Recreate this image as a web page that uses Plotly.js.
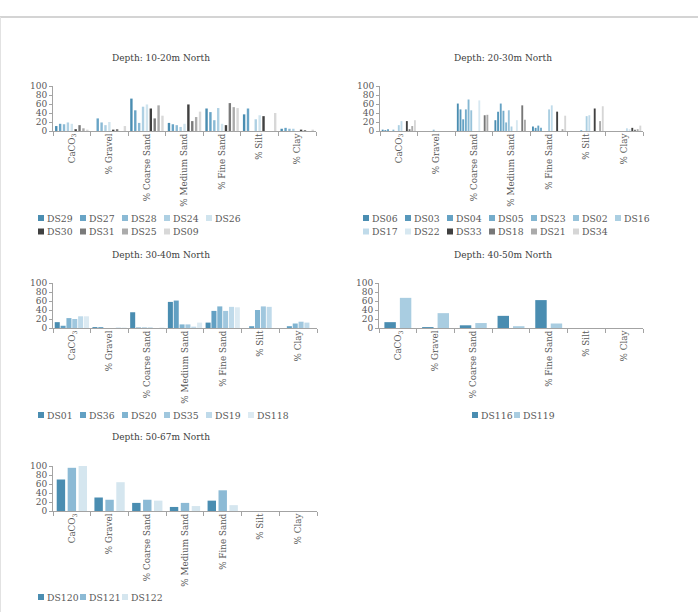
<!DOCTYPE html>
<html>
<head>
<meta charset="utf-8">
<script src="https://cdn.plot.ly/plotly-3.0.1.min.js"></script>
<style>
  html, body { margin: 0; padding: 0; background: #ffffff; }
  #chart { width: 698px; height: 612px; }
</style>
</head>
<body>
<div id="chart"></div>
<script>
// Grain-size categories shared by every depth band
const categories = ['CaCO<sub>3</sub>', '% Gravel', '% Coarse Sand', '% Medium Sand', '% Fine Sand', '% Silt', '% Clay'];

// Depth 10-20m North
const names10 = ['DS29', 'DS27', 'DS28', 'DS24', 'DS26', 'DS30', 'DS31', 'DS25', 'DS09'];
const values10 = [
  [11, 0, 72, 18, 50, 37, 5],
  [16, 28, 46, 15, 42, 50, 7],
  [15, 19, 18, 13, 24, 0, 5],
  [19, 13, 54, 9, 51, 26, 5],
  [16, 20, 59, 16, 16, 35, 0],
  [4, 3, 50, 59, 13, 33, 3],
  [13, 4, 28, 22, 62, 0, 2],
  [6, 0, 57, 31, 53, 0, 0],
  [3, 11, 34, 43, 51, 40, 3]
];

// Depth 20-30m North
const names20 = ['DS06', 'DS03', 'DS04', 'DS05', 'DS23', 'DS02', 'DS16', 'DS17', 'DS22', 'DS33', 'DS18', 'DS21', 'DS34'];
const values20 = [
  [3, 0, 61, 24, 10, 0, 0],
  [2, 0, 48, 43, 7, 0, 0],
  [4, 0, 26, 61, 12, 0, 0],
  [0, 0, 48, 45, 7, 0, 0],
  [3, 0, 70, 19, 0, 2, 0],
  [0, 3, 46, 46, 0, 0, 0],
  [13, 0, 0, 10, 48, 33, 0],
  [22, 0, 0, 0, 57, 35, 6],
  [0, 0, 68, 24, 0, 0, 4],
  [22, 0, 0, 0, 43, 50, 7],
  [4, 0, 35, 57, 0, 0, 3],
  [11, 0, 36, 25, 4, 22, 4],
  [24, 0, 0, 0, 34, 55, 12]
];

// Depth 30-40m North
const names30 = ['DS01', 'DS36', 'DS20', 'DS35', 'DS19', 'DS118'];
const values30 = [
  [13, 2, 35, 58, 12, 0, 0],
  [5, 2, 1, 61, 38, 4, 4],
  [22, 0, 1, 8, 48, 40, 10],
  [20, 0, 1, 8, 38, 48, 14],
  [26, 1, 0, 3, 47, 47, 12],
  [26, 1, 1, 12, 46, 0, 0]
];

// Depth 40-50m North (medium sand label left blank on this axis)
const names40 = ['DS116', 'DS119'];
const values40 = [
  [13, 2, 6, 27, 62, 0, 0],
  [67, 33, 11, 4, 10, 0, 0]
];
const tickText40 = ['CaCO<sub>3</sub>', '% Gravel', '% Coarse Sand', ' ', '% Fine Sand', '% Silt', '% Clay'];

// Depth 50-67m North
const names50 = ['DS120', 'DS121', 'DS122'];
const values50 = [
  [70, 30, 18, 9, 23, 0, 0],
  [96, 25, 25, 18, 46, 0, 0],
  [100, 64, 23, 11, 13, 0, 0]
];

// Series colours
const colors10 = ['#4a8db1', '#68a4c6', '#8bbad5', '#aed0e3', '#d0e4ee', '#404040', '#7a7a7a', '#ababab', '#d8d8d8'];
const colors20 = ['#4a8db1', '#5798bb', '#65a2c4', '#74accb', '#85b7d2', '#98c3da', '#abcfe2', '#c0dbea', '#d7e8f1', '#404040', '#777777', '#aaaaaa', '#d6d6d6'];
const colors30 = ['#4a8db1', '#62a0c3', '#80b4d1', '#a0c7de', '#bfdaea', '#dceaf2'];
const colors40 = ['#4a8db1', '#a9cde1'];
const colors50 = ['#4a8db1', '#8cbad5', '#d5e6ef'];

const W = 698, H = 612;
const fx = x => x / W;
const fy = y => 1 - y / H;
const FONT = 'DejaVu Serif';
const TEXT = '#595959';
const AXIS = '#a3a3a3';

const panels = [
  { title: 'Depth: 10-20m North', names: names10, values: values10, colors: colors10,
    box: [53, 316, 86, 131], titleAt: [161, 58], legendAt: [38, 218], perRow: 5, group: 0.93, fill: 0.62 },
  { title: 'Depth: 20-30m North', names: names20, values: values20, colors: colors20,
    box: [380, 643, 86, 131], titleAt: [503, 58], legendAt: [363, 218], perRow: 7, group: 0.93, fill: 0.7 },
  { title: 'Depth: 30-40m North', names: names30, values: values30, colors: colors30,
    box: [53, 317, 283, 328], titleAt: [161, 255], legendAt: [38, 415], perRow: 6, group: 0.93, fill: 0.86 },
  { title: 'Depth: 40-50m North', names: names40, values: values40, colors: colors40,
    box: [379, 643, 283, 328], titleAt: [503, 255], legendAt: [472, 415], perRow: 2, group: 0.82, fill: 0.74,
    tickText: tickText40 },
  { title: 'Depth: 50-67m North', names: names50, values: values50, colors: colors50,
    box: [53, 317, 466, 511], titleAt: [161, 437], legendAt: [38, 597], perRow: 3, group: 0.87, fill: 0.77 }
];

const traces = [];
const annotations = [];
const shapes = [
  // page frame
  { type: 'line', xref: 'paper', yref: 'paper', x0: 0, x1: 1, y0: fy(17), y1: fy(17),
    line: { color: '#c6c6c6', width: 1.5 } },
  { type: 'line', xref: 'paper', yref: 'paper', x0: fx(0.5), x1: fx(0.5), y0: fy(17), y1: 0,
    line: { color: '#e2e2e2', width: 1 } }
];
const layout = {
  width: W, height: H,
  margin: { l: 0, r: 0, t: 0, b: 0 },
  paper_bgcolor: '#ffffff', plot_bgcolor: '#ffffff',
  barmode: 'overlay',
  showlegend: false,
  font: { family: FONT, color: TEXT, size: 9 }
};

panels.forEach((p, k) => {
  const suffix = k === 0 ? '' : String(k + 1);
  const xa = 'x' + suffix, ya = 'y' + suffix;
  const n = p.names.length;
  const pitch = p.group / n;
  const bw = pitch * p.fill;

  p.names.forEach((name, i) => {
    traces.push({
      type: 'bar', name: name,
      x: categories, y: p.values[i],
      xaxis: xa, yaxis: ya,
      width: bw,
      offset: -p.group / 2 + i * pitch + (pitch - bw) / 2,
      marker: { color: p.colors[i], line: { width: 0 } },
      hovertemplate: name + ': %{y}<extra></extra>'
    });
  });

  const [x0, x1, y0, y1] = p.box;
  const xaxis = {
    domain: [fx(x0), fx(x1)], anchor: ya,
    type: 'category', range: [-0.5, 6.5], fixedrange: true,
    tickangle: -90, ticks: 'outside', tickson: 'boundaries', ticklen: 4,
    ticklabelstandoff: -2,
    tickcolor: AXIS, showline: true, linecolor: AXIS, linewidth: 1,
    showgrid: false, zeroline: false,
    tickfont: { family: FONT, size: 8.8, color: TEXT }
  };
  if (p.tickText) {
    xaxis.tickmode = 'array';
    xaxis.tickvals = categories;
    xaxis.ticktext = p.tickText;
  }
  layout['xaxis' + suffix] = xaxis;
  layout['yaxis' + suffix] = {
    domain: [fy(y1), fy(y0)], anchor: xa,
    range: [0, 100], fixedrange: true,
    tickmode: 'linear', tick0: 0, dtick: 20,
    ticks: 'outside', ticklen: 3, tickcolor: AXIS,
    showline: true, linecolor: AXIS, linewidth: 1,
    showgrid: false, zeroline: false,
    tickfont: { family: FONT, size: 9, color: TEXT }
  };

  // panel heading
  annotations.push({
    xref: 'paper', yref: 'paper', x: fx(p.titleAt[0]), y: fy(p.titleAt[1]),
    xanchor: 'center', yanchor: 'middle', showarrow: false,
    text: p.title, font: { family: FONT, size: 9, color: '#404040' }
  });

  // legend: square swatch plus series name, rows of fixed-width entries
  const step = 42, rowGap = 13.5;
  p.names.forEach((name, i) => {
    const col = i % p.perRow, row = Math.floor(i / p.perRow);
    const sx = p.legendAt[0] + col * step;
    const sy = p.legendAt[1] + row * rowGap;
    shapes.push({
      type: 'rect', xref: 'paper', yref: 'paper',
      x0: fx(sx), x1: fx(sx + 6), y0: fy(sy + 3), y1: fy(sy - 3),
      fillcolor: p.colors[i], line: { width: 0 }
    });
    annotations.push({
      xref: 'paper', yref: 'paper', x: fx(sx + 6.5), y: fy(sy),
      xanchor: 'left', yanchor: 'middle', showarrow: false,
      text: name, font: { family: FONT, size: 9.3, color: TEXT }
    });
  });
});

layout.annotations = annotations;
layout.shapes = shapes;

Plotly.newPlot('chart', traces, layout, { displayModeBar: false, staticPlot: true });
</script>
</body>
</html>
